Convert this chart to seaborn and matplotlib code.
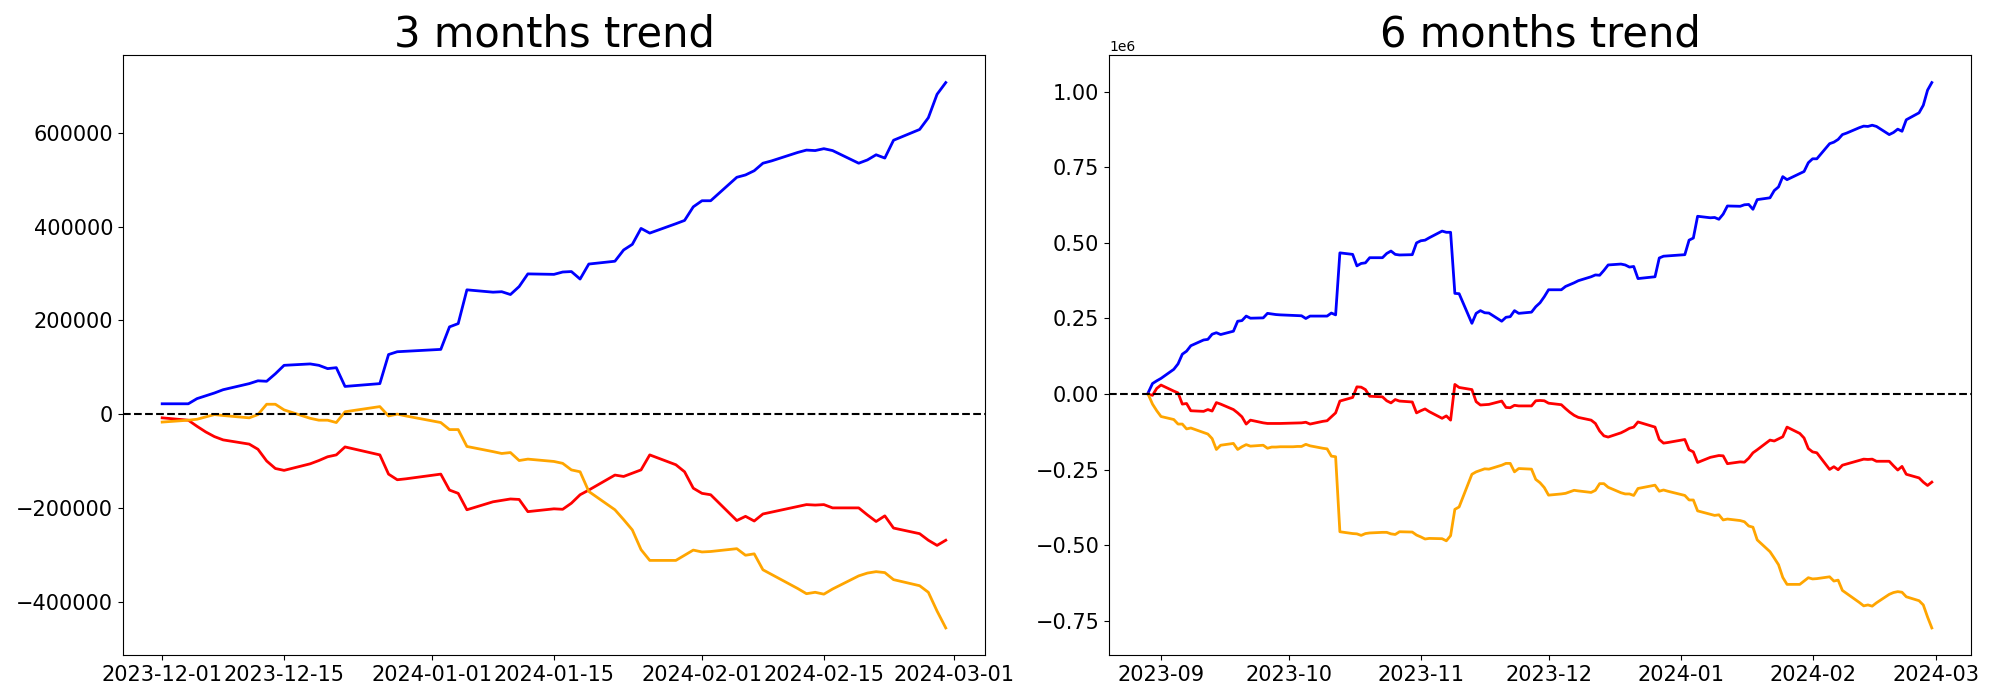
import numpy as np
import pandas as pd
import seaborn as sns
import matplotlib
matplotlib.use("Agg")
import matplotlib.pyplot as plt

# trading days (weekdays, Christmas and New Year closed)
closed_days = ['2023-12-25', '2024-01-01']
dates_3m = pd.bdate_range('2023-12-01', '2024-02-29', freq='C', holidays=closed_days)
dates_6m = pd.bdate_range('2023-08-29', '2024-02-29', freq='C', holidays=closed_days)

# values in thousands
blue_3m = [22, 22, 33, 39, 45, 52, 65, 71, 70, 86, 104, 107, 104, 97, 99, 59, 65, 127, 133, 134,
           138, 186, 193, 265, 260, 261, 255, 272, 299, 298, 303, 304, 288, 320, 326, 350, 362, 396, 386, 406, 413, 442,
           455, 455, 505, 510, 519, 535, 540, 558, 563, 562, 566, 562, 535, 542, 553, 546, 584, 607, 632, 682, 707]
red_3m = [-8, -13, -26, -38, -48, -55, -64, -75, -100, -116, -120, -106, -99, -91, -87, -70, -87, -128, -140, -138,
          -128, -162, -169, -204, -187, -184, -181, -182, -208, -202, -203, -190, -172, -162, -130, -133, -126, -119, -87, -108, -123, -158,
          -169, -172, -227, -218, -228, -213, -209, -197, -193, -194, -193, -200, -200, -215, -229, -217, -243, -255, -269, -280, -269]
orange_3m = [-17, -13, -11, -6, -1, -3, -8, -1, 21, 21, 9, -9, -13, -13, -18, 5, 16, -4, 0, -4,
             -18, -33, -33, -69, -80, -84, -82, -99, -96, -101, -105, -119, -123, -165, -204, -225, -247, -289, -312, -312, -301, -290,
             -294, -293, -287, -301, -298, -332, -342, -372, -383, -380, -384, -373, -345, -339, -336, -338, -353, -366, -380, -420, -456]

blue_6m = [5, 35, 44,
           52, 82, 100, 132, 142, 160, 179, 181, 198, 203, 197, 208, 241, 243, 258, 251, 252, 267, 265, 263, 262,
           260, 259, 259, 250, 258, 258, 258, 268, 262, 467, 462, 424, 432, 434, 451, 451, 465, 473, 462, 460, 461, 500,
           507, 509, 517, 539, 535, 535, 333, 332, 234, 267, 276, 269, 268, 241, 254, 256, 276, 267, 271, 289, 302, 322,
           345, 345, 356, 362, 368, 375, 388, 394, 393, 409, 427, 430, 427, 420, 422, 382, 388, 450, 456, 457,
           461, 509, 516, 588, 583, 584, 578, 595, 622, 621, 626, 627, 611, 643, 649, 673, 685, 719, 709, 729, 736, 765,
           778, 778, 828, 833, 842, 858, 863, 881, 886, 885, 889, 885, 858, 865, 876, 869, 907, 930, 955, 1005, 1030]
red_6m = [0, -4, 19,
          30, 10, 4, -33, -31, -55, -57, -51, -56, -28, -33, -51, -62, -75, -99, -86, -95, -97, -97, -97, -97,
          -96, -96, -95, -93, -99, -90, -88, -75, -62, -23, -11, 24, 23, 15, -7, -9, -22, -29, -18, -23, -26, -62,
          -55, -49, -58, -80, -72, -86, 32, 22, 15, -25, -36, -35, -34, -23, -44, -45, -37, -39, -39, -22, -21, -22,
          -30, -35, -48, -60, -70, -77, -86, -97, -122, -138, -142, -128, -121, -113, -109, -92, -109, -150, -162, -160,
          -150, -184, -191, -226, -209, -206, -203, -204, -230, -224, -225, -212, -194, -184, -152, -155, -148, -141, -109, -130, -145, -180,
          -191, -194, -249, -240, -250, -235, -231, -219, -215, -216, -215, -222, -222, -237, -251, -239, -265, -277, -291, -302, -291]
orange_6m = [-1, -33, -55,
             -74, -84, -99, -99, -115, -112, -127, -132, -147, -183, -169, -163, -183, -174, -167, -172, -169, -179, -175, -175, -174,
             -174, -173, -173, -166, -171, -179, -181, -205, -207, -455, -461, -462, -467, -461, -459, -457, -457, -462, -464, -455, -456, -466,
             -472, -479, -477, -478, -485, -468, -381, -373, -265, -257, -252, -247, -248, -235, -229, -229, -257, -246, -248, -282, -293, -309,
             -334, -330, -328, -323, -318, -320, -325, -318, -296, -296, -308, -326, -330, -330, -335, -312, -301, -321, -317, -321,
             -335, -350, -350, -386, -397, -401, -399, -416, -413, -418, -422, -436, -440, -482, -521, -542, -564, -606, -629, -629, -618, -607,
             -611, -610, -604, -618, -615, -649, -659, -689, -700, -697, -701, -690, -662, -656, -653, -655, -670, -683, -697, -737, -773]

palette = {'blue': 'blue', 'red': 'red', 'orange': 'orange'}


def make_long(dates, blue, red, orange):
    df = pd.DataFrame({'date': dates, 'blue': blue, 'red': red, 'orange': orange})
    df = df.melt(id_vars='date', var_name='series', value_name='value')
    df['value'] = df['value'] * 1000.0
    return df


panels = [
    ('3 months trend', make_long(dates_3m, blue_3m, red_3m, orange_3m)),
    ('6 months trend', make_long(dates_6m, blue_6m, red_6m, orange_6m)),
]

fig, axes = plt.subplots(1, 2, figsize=(20, 7), dpi=100)
plt.subplots_adjust(left=0.0615, right=0.9855, bottom=0.064, top=0.921, wspace=0.144)

for ax, (title, df) in zip(axes, panels):
    sns.lineplot(data=df, x='date', y='value', hue='series', palette=palette,
                 hue_order=['blue', 'red', 'orange'], linewidth=2, legend=False, ax=ax)
    ax.axhline(0, color='black', linestyle='--', linewidth=1.5)
    ax.set_title(title, fontsize=30)
    ax.set_xlabel('')
    ax.set_ylabel('')
    ax.tick_params(labelsize=15)

fig.savefig('out.png', dpi=100)
